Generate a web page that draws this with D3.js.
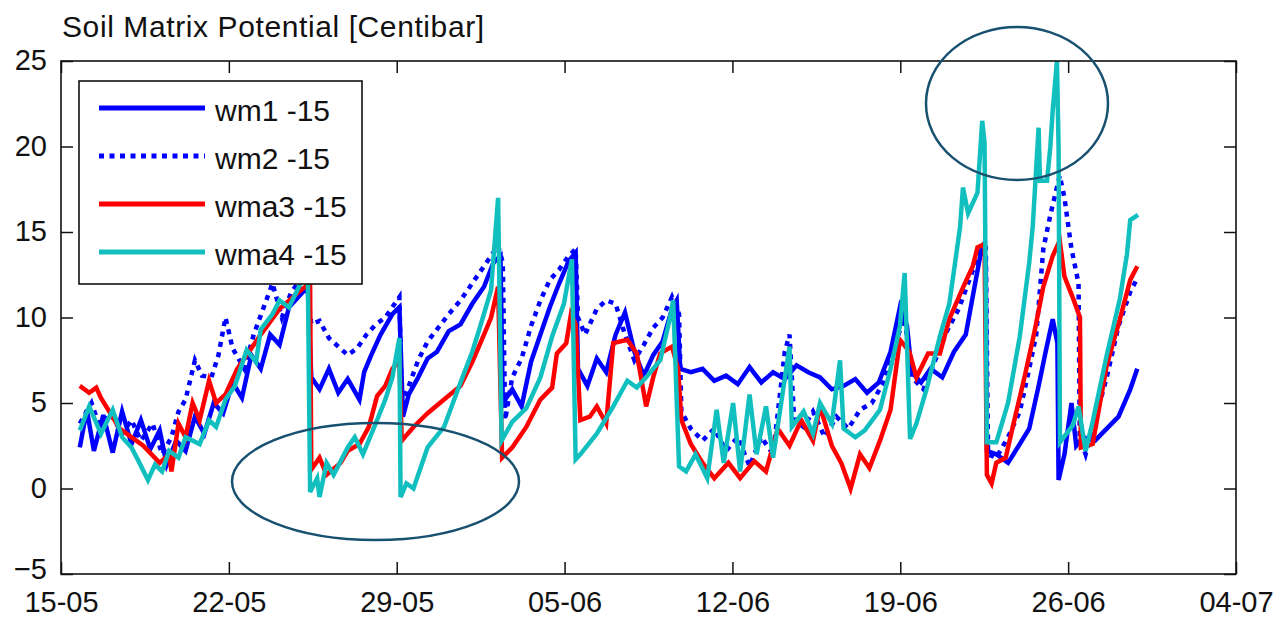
<!DOCTYPE html>
<html>
<head>
<meta charset="utf-8">
<script src="https://cdn.jsdelivr.net/npm/d3@7"></script>
<style>
  body { margin: 0; background: #fff; }
  svg text { font-family: "Liberation Sans", Arial, Helvetica, sans-serif; fill: #111; }
</style>
</head>
<body>
<svg id="chart" width="1282" height="622"></svg>
<script>
// days since 15-05, value in centibar
const wm1 = [
  [0.8,2.4],[1.1,4.6],[1.4,2.2],[1.8,4.3],[2.2,2.1],[2.6,4.5],[3.0,2.6],[3.4,4.0],[3.8,2.3],[4.2,3.4],
  [4.5,1.4],[4.9,2.8],[5.3,2.2],[5.7,4.2],[6.1,3.2],[6.5,5.0],[6.9,4.4],[7.3,6.2],[7.7,5.3],[8.1,7.8],
  [8.5,7.0],[8.9,9.0],[9.3,8.4],[9.7,10.6],[10.1,11.2],[10.5,11.8],[10.65,6.5],[11.0,5.8],[11.4,7.0],[11.8,5.6],
  [12.2,6.4],[12.7,5.2],[12.9,6.8],[13.2,7.8],[13.6,9.0],[14.1,10.2],[14.4,10.6],[14.55,4.2],[14.8,5.5],[15.2,6.5],
  [15.6,7.6],[16.0,8.0],[16.5,9.2],[17.0,9.6],[17.5,10.8],[18.0,11.8],[18.4,13.2],[18.7,13.6],[18.8,5.0],[19.2,5.8],
  [19.6,4.8],[20.0,7.4],[20.4,9.0],[20.8,10.6],[21.2,12.0],[21.6,13.3],[21.9,13.8],[22.0,7.0],[22.4,6.0],[22.8,7.6],
  [23.2,6.8],[23.6,9.0],[24.0,10.3],[24.4,8.0],[24.8,6.6],[25.2,7.8],[25.6,8.6],[26.0,10.5],[26.2,11.0],[26.35,7.0],
  [26.8,6.8],[27.3,7.0],[27.8,6.3],[28.3,6.6],[28.8,6.1],[29.3,7.1],[29.8,6.2],[30.3,6.8],[30.8,6.4],[31.3,7.2],
  [31.8,6.8],[32.3,6.5],[32.8,5.8],[33.3,6.0],[33.8,6.4],[34.3,5.6],[34.8,6.2],[35.3,8.0],[35.7,10.6],[36.0,9.5],
  [36.2,6.8],[36.6,6.2],[37.0,7.0],[37.5,6.5],[38.0,8.0],[38.5,9.0],[38.9,12.0],[39.2,14.2],[39.35,13.5],[39.4,2.2],
  [39.8,2.0],[40.3,1.5],[40.8,2.6],[41.2,3.5],[41.6,6.0],[41.9,8.0],[42.2,9.9],[42.4,8.5],[42.45,0.5],[42.7,2.0],
  [43.0,5.0],[43.2,2.5],[43.5,3.0],[44.0,2.8],[44.5,3.5],[45.0,4.2],[45.5,5.8],[45.8,7.0]
];
const wm2 = [
  [0.8,3.8],[1.3,5.0],[1.7,3.4],[2.1,4.4],[2.6,3.2],[3.0,4.0],[3.4,2.8],[3.9,3.8],[4.3,2.0],[4.7,3.0],
  [5.0,4.5],[5.3,5.2],[5.7,7.5],[6.0,6.6],[6.4,6.5],[6.7,7.8],[7.0,10.0],[7.3,8.2],[7.8,7.0],[8.2,9.0],
  [8.6,10.5],[9.0,12.0],[9.4,10.0],[9.8,11.5],[10.2,12.2],[10.5,11.5],[10.65,9.6],[11.0,9.8],[11.4,8.8],[11.8,8.3],
  [12.2,7.8],[12.6,8.2],[13.0,9.0],[13.4,9.6],[13.8,10.0],[14.2,10.8],[14.4,11.2],[14.5,5.0],[14.8,6.0],[15.2,7.5],
  [15.6,8.6],[16.0,9.3],[16.5,10.2],[17.0,11.0],[17.5,12.0],[17.9,12.8],[18.3,13.6],[18.6,14.2],[18.8,13.2],[18.9,4.0],
  [19.2,6.5],[19.6,7.6],[20.0,9.5],[20.4,11.0],[20.8,12.2],[21.2,12.8],[21.6,13.6],[21.9,14.0],[22.0,10.0],[22.3,9.0],
  [22.8,10.5],[23.2,11.0],[23.6,10.8],[24.0,9.0],[24.4,7.5],[24.8,8.4],[25.2,9.4],[25.6,10.0],[26.0,11.2],[26.3,10.2],
  [26.4,4.5],[26.8,3.5],[27.3,2.8],[27.8,3.5],[28.3,2.2],[28.8,3.0],[29.3,1.3],[29.8,3.0],[30.3,2.0],[30.8,8.0],
  [31.0,9.0],[31.2,4.0],[31.6,3.6],[32.0,4.5],[32.5,3.0],[33.0,4.2],[33.5,3.5],[34.0,4.6],[34.5,5.0],[35.0,6.2],
  [35.5,8.5],[35.9,10.0],[36.2,6.5],[36.7,5.8],[37.2,7.5],[37.7,9.2],[38.2,10.5],[38.6,12.0],[39.0,13.5],[39.35,14.5],
  [39.45,2.0],[39.8,1.8],[40.3,3.0],[40.8,4.5],[41.2,7.0],[41.5,9.0],[41.8,14.0],[42.1,16.0],[42.5,18.3],[42.7,17.0],
  [43.0,14.0],[43.3,12.0],[43.35,3.0],[43.6,2.0],[44.0,4.0],[44.5,6.5],[45.0,9.5],[45.5,11.5],[45.8,12.3]
];
const wma3 = [
  [0.8,6.0],[1.2,5.6],[1.5,5.9],[1.7,5.3],[2.5,3.5],[3.5,2.5],[4.2,1.5],[4.6,2.0],[4.7,1.0],[5.0,3.8],
  [5.3,3.0],[5.6,5.0],[5.9,4.0],[6.3,6.3],[6.6,5.0],[7.0,5.5],[7.5,7.0],[8.5,9.0],[9.3,10.5],[10.2,11.6],
  [10.6,12.0],[10.65,1.1],[11.0,1.8],[11.3,0.8],[11.9,1.5],[12.2,2.2],[12.7,2.6],[13.1,3.6],[13.45,5.4],[13.8,6.0],
  [14.1,7.0],[14.4,7.5],[14.5,2.8],[15.0,3.6],[15.6,4.4],[16.3,5.2],[17.0,6.0],[17.5,7.4],[18.0,9.0],[18.3,10.0],
  [18.6,11.8],[18.77,1.8],[19.2,2.4],[19.8,3.6],[20.4,5.2],[20.9,5.9],[21.1,7.9],[21.5,8.5],[21.7,10.2],[21.9,9.6],
  [22.1,4.0],[22.5,4.2],[22.8,4.8],[23.2,3.8],[23.5,8.5],[24.1,8.7],[24.5,7.9],[24.9,4.8],[25.2,6.5],[25.5,7.9],
  [26.0,8.3],[26.26,7.0],[26.4,4.0],[26.8,2.6],[27.3,1.5],[27.8,0.6],[28.4,1.5],[28.9,0.6],[29.5,1.6],[30.0,1.0],
  [30.5,3.5],[31.0,2.5],[31.5,4.0],[32.0,2.8],[32.3,4.8],[32.8,2.5],[33.2,1.5],[33.6,0.0],[34.0,2.0],[34.4,1.2],
  [34.85,2.8],[35.3,4.6],[35.7,8.7],[36.1,8.0],[36.4,6.5],[36.9,7.9],[37.4,7.9],[37.8,9.9],[38.4,11.8],[38.8,13.0],
  [39.0,14.1],[39.3,14.3],[39.4,0.8],[39.6,0.3],[39.8,1.5],[40.2,1.8],[40.5,3.6],[41.0,6.5],[41.4,9.0],[41.8,11.8],
  [42.2,13.6],[42.5,14.5],[42.7,12.4],[43.1,11.0],[43.36,10.0],[43.4,2.4],[43.9,2.6],[44.5,7.2],[45.06,9.9],[45.5,12.2],
  [45.8,13.0]
];
const wma4 = [
  [0.8,3.4],[1.2,4.8],[1.7,3.2],[2.2,4.6],[2.6,3.0],[3.0,2.4],[3.3,1.6],[3.7,0.5],[4.0,1.4],[4.3,1.0],
  [4.6,2.2],[5.0,1.8],[5.3,3.0],[5.9,2.6],[6.3,4.0],[6.6,3.6],[7.0,5.2],[7.4,6.0],[7.9,8.1],[8.3,7.4],
  [8.5,9.3],[9.0,10.2],[9.3,11.0],[9.7,10.6],[10.2,12.0],[10.5,12.8],[10.6,-0.2],[10.9,0.6],[11.0,-0.5],[11.3,1.5],
  [11.6,0.8],[12.2,2.4],[12.5,3.0],[12.85,2.0],[13.45,4.0],[13.8,5.2],[14.1,6.5],[14.4,8.8],[14.45,-0.5],[14.7,0.3],
  [15.0,0.0],[15.6,2.4],[16.3,3.6],[17.0,6.2],[17.5,8.0],[17.8,9.3],[18.3,11.6],[18.6,17.0],[18.75,2.8],[19.2,3.9],
  [19.8,4.7],[20.4,6.5],[20.9,8.9],[21.4,10.8],[21.74,13.4],[21.9,1.7],[22.1,2.0],[22.8,3.2],[23.5,4.8],[24.1,6.3],
  [24.5,5.9],[24.9,6.5],[25.5,7.5],[25.9,9.9],[26.05,11.0],[26.3,1.3],[26.6,1.0],[27.0,2.0],[27.5,0.6],[27.9,4.6],
  [28.2,1.5],[28.6,5.0],[28.9,1.0],[29.3,5.5],[29.6,2.0],[30.0,4.8],[30.3,1.8],[31.0,8.3],[31.1,3.6],[31.6,4.5],
  [32.0,3.2],[32.3,5.0],[32.8,3.8],[33.15,7.5],[33.3,3.5],[33.8,3.0],[34.2,3.4],[34.85,4.6],[35.3,7.0],[35.7,9.5],
  [35.9,12.6],[36.13,2.9],[36.4,3.8],[36.85,5.9],[37.4,8.9],[37.8,10.8],[38.26,15.3],[38.38,17.6],[38.6,16.1],[39.0,17.3],
  [39.2,21.5],[39.3,20.2],[39.4,2.7],[39.8,2.7],[40.3,5.0],[40.8,8.9],[41.2,13.2],[41.35,15.3],[41.6,21.1],[41.66,18.0],
  [41.96,18.0],[42.1,20.0],[42.2,22.1],[42.38,25.0],[42.45,20.0],[42.51,2.7],[43.06,3.7],[43.3,4.8],[43.6,2.2],[43.9,3.9],
  [44.5,7.8],[45.06,11.1],[45.36,13.7],[45.5,15.7],[45.83,16.0]
];

const seriesNames = ['wm1 -15', 'wm2 -15', 'wma3 -15', 'wma4 -15'];
const xTickLabels = ['15-05', '22-05', '29-05', '05-06', '12-06', '19-06', '26-06', '04-07'];
const yTicks = [-5, 0, 5, 10, 15, 20, 25];
const titleText = 'Soil Matrix Potential [Centibar]';

const svg = d3.select('#chart');
const plotLeft = 61, plotRight = 1236, plotTop = 61, plotBottom = 574;

const x = d3.scaleLinear().domain([0, 50]).range([plotLeft, plotRight]);
const y = d3.scaleLinear().domain([-5, 25]).range([plotBottom, plotTop]);
// matlab splits the span into 7 equal steps
const xTicks = d3.range(8).map(i => i * 50 / 7);

svg.append('rect').attr('width', 1282).attr('height', 622).attr('fill', '#fff');

svg.append('defs').append('clipPath').attr('id', 'plotClip')
  .append('rect').attr('x', plotLeft).attr('y', plotTop)
  .attr('width', plotRight - plotLeft).attr('height', plotBottom - plotTop);

const series = [
  { name: seriesNames[0], data: wm1, color: '#0000ff', dash: null },
  { name: seriesNames[1], data: wm2, color: '#0000ff', dash: '5,5.5' },
  { name: seriesNames[2], data: wma3, color: '#ff0000', dash: null },
  { name: seriesNames[3], data: wma4, color: '#12bfbf', dash: null }
];

const line = d3.line().x(d => x(d[0])).y(d => y(d[1]));

const plot = svg.append('g').attr('clip-path', 'url(#plotClip)');
series.forEach(s => {
  plot.append('path')
    .attr('d', line(s.data))
    .attr('fill', 'none')
    .attr('stroke', s.color)
    .attr('stroke-width', 4.5)
    .attr('stroke-linejoin', 'miter')
    .attr('stroke-dasharray', s.dash);
});

// axes, ticks pointing inward
const fontSize = 29;
const bottomAxis = svg.append('g').attr('transform', `translate(0,${plotBottom})`)
  .call(d3.axisBottom(x).tickValues(xTicks).tickFormat((d, i) => xTickLabels[i])
    .tickSizeInner(-12).tickSizeOuter(0).tickPadding(17));
const topAxis = svg.append('g').attr('transform', `translate(0,${plotTop})`)
  .call(d3.axisTop(x).tickValues(xTicks).tickFormat('').tickSizeInner(-12).tickSizeOuter(0));
const leftAxis = svg.append('g').attr('transform', `translate(${plotLeft},0)`)
  .call(d3.axisLeft(y).tickValues(yTicks).tickSizeInner(-12).tickSizeOuter(0).tickPadding(14));
const rightAxis = svg.append('g').attr('transform', `translate(${plotRight},0)`)
  .call(d3.axisRight(y).tickValues(yTicks).tickFormat('').tickSizeInner(-12).tickSizeOuter(0));

[bottomAxis, topAxis, leftAxis, rightAxis].forEach(a => {
  a.select('.domain').remove();
  a.selectAll('line').attr('stroke', '#111').attr('stroke-width', 1.5);
  a.selectAll('text').attr('font-size', fontSize).attr('fill', '#111');
  a.attr('font-family', null).attr('font-size', null);
});
// lowest label sits a bit higher so it clears the date labels
leftAxis.selectAll('text').attr('dy', d => d === -5 ? '0.16em' : '0.3em');

svg.append('rect')
  .attr('x', plotLeft).attr('y', plotTop)
  .attr('width', plotRight - plotLeft).attr('height', plotBottom - plotTop)
  .attr('fill', 'none').attr('stroke', '#111').attr('stroke-width', 1.6);

svg.append('text')
  .attr('x', 62).attr('y', 37)
  .attr('font-size', 30)
  .attr('letter-spacing', 0.6)
  .text(titleText);

// legend
const legend = svg.append('g').attr('transform', 'translate(79,81)');
legend.append('rect').attr('width', 283).attr('height', 203)
  .attr('fill', '#fff').attr('stroke', '#111').attr('stroke-width', 1.6);
series.forEach((s, i) => {
  const ly = 27 + i * 48;
  legend.append('line')
    .attr('x1', 20).attr('x2', 126).attr('y1', ly).attr('y2', ly)
    .attr('stroke', s.color).attr('stroke-width', 5)
    .attr('stroke-dasharray', s.dash);
  legend.append('text')
    .attr('x', 136).attr('y', ly + 13)
    .attr('font-size', 30)
    .text(s.name);
});

// annotation circles
svg.append('ellipse').attr('cx', 375.5).attr('cy', 481.5).attr('rx', 143.5).attr('ry', 58.5)
  .attr('fill', 'none').attr('stroke', '#18506f').attr('stroke-width', 2.5);
svg.append('ellipse').attr('cx', 1017).attr('cy', 103.5).attr('rx', 91).attr('ry', 76.5)
  .attr('fill', 'none').attr('stroke', '#18506f').attr('stroke-width', 2.5);
</script>
</body>
</html>
